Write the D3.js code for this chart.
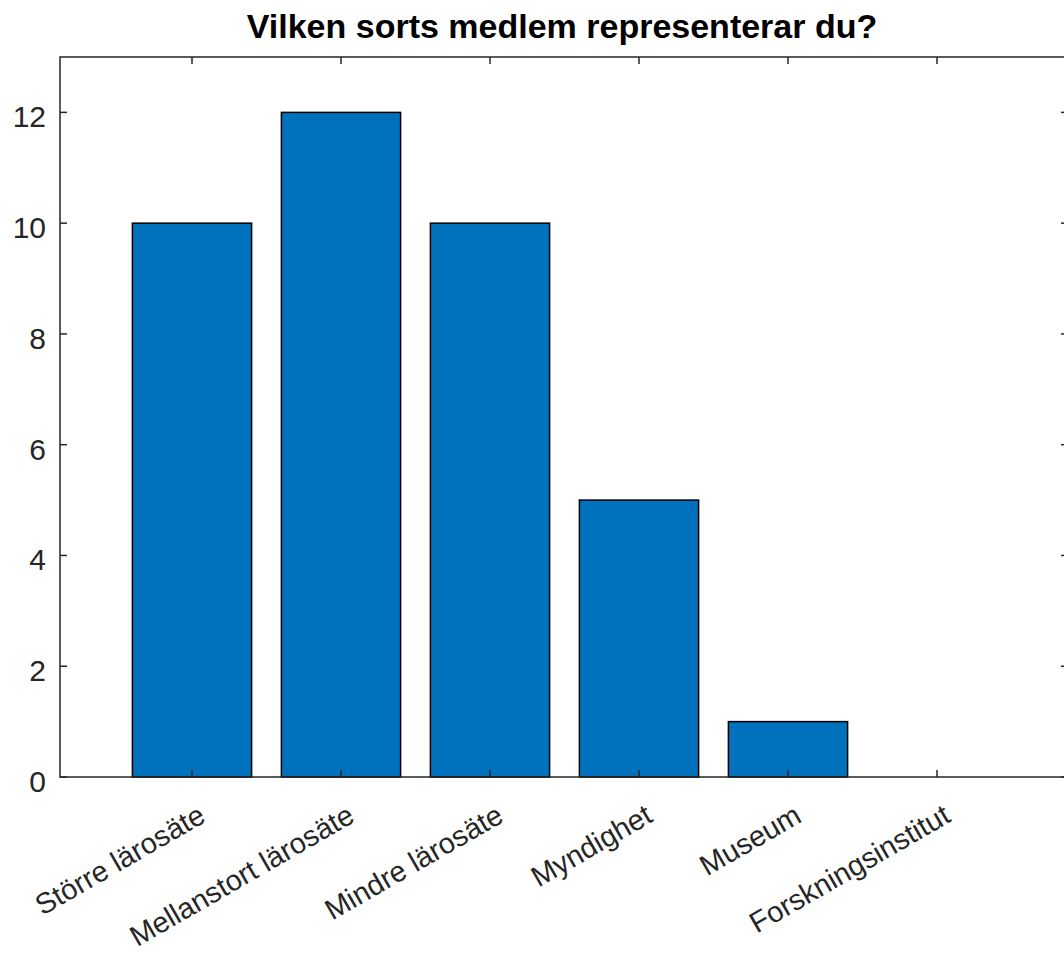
<!DOCTYPE html>
<html><head><meta charset="utf-8">
<script src="https://cdn.jsdelivr.net/npm/d3@7"></script>
<style>body{margin:0;background:#fff;} svg{display:block;font-family:"Liberation Sans",Arial,sans-serif;}</style>
</head><body>
<script>
const title = "Vilken sorts medlem representerar du?";
const categories = ["Större lärosäte","Mellanstort lärosäte","Mindre lärosäte","Myndighet","Museum","Forskningsinstitut"];
const values = [10, 12, 10, 5, 1, 0];
const yTicks = [0, 2, 4, 6, 8, 10, 12];

(function(){
const W = 1064, H = 957;
const pL = 60, pR = 1068, pT = 57, pB = 777;
const svg = d3.select("body").append("svg").attr("width", W).attr("height", H);

const x = d3.scaleLinear().domain([1, 6]).range([192, 937]);
const y = d3.scaleLinear().domain([0, 13]).range([pB, pT]);
const step = x(2) - x(1);
const bw = step * 0.8;
const axisCol = "#262626";

svg.selectAll("rect.bar").data(values).enter().append("rect")
  .attr("class","bar")
  .attr("x", (d,i) => x(i+1) - bw/2)
  .attr("width", bw)
  .attr("y", d => y(d))
  .attr("height", d => y(0) - y(d))
  .attr("fill", "#0072BD")
  .attr("stroke", "#000")
  .attr("stroke-width", 1.5)
  .style("display", d => d > 0 ? null : "none");

const g = svg.append("g").attr("stroke", axisCol).attr("stroke-width", 1.5).attr("fill","none");
g.append("rect").attr("x", pL).attr("y", pT).attr("width", pR-pL).attr("height", pB-pT);

const tl = 7;
categories.forEach((c,i) => {
  const xx = x(i+1);
  g.append("line").attr("x1", xx).attr("x2", xx).attr("y1", pB).attr("y2", pB - tl);
  g.append("line").attr("x1", xx).attr("x2", xx).attr("y1", pT).attr("y2", pT + tl);
});
yTicks.forEach(t => {
  g.append("line").attr("x1", pL).attr("x2", pL + tl).attr("y1", y(t)).attr("y2", y(t));
  g.append("line").attr("x1", pR).attr("x2", pR - tl).attr("y1", y(t)).attr("y2", y(t));
});

svg.selectAll("text.yl").data(yTicks).enter().append("text")
  .attr("class","yl")
  .attr("x", pL - 14).attr("y", d => y(d))
  .attr("dy", "0.5em")
  .attr("text-anchor","end")
  .attr("font-size", 30)
  .attr("fill", axisCol)
  .text(d => d);

svg.selectAll("text.xl").data(categories).enter().append("text")
  .attr("class","xl")
  .attr("transform", (d,i) => `translate(${x(i+1)+5},${pB + 26}) rotate(-30)`)
  .attr("text-anchor","end")
  .attr("dy", "0.71em")
  .attr("font-size", 29)
  .attr("fill", axisCol)
  .text(d => d);

svg.append("text")
  .attr("x", 562).attr("y", 38)
  .attr("text-anchor","middle")
  .attr("font-size", 34)
  .attr("font-weight","bold")
  .attr("fill", "#000")
  .text(title);
})();
</script>
</body></html>
